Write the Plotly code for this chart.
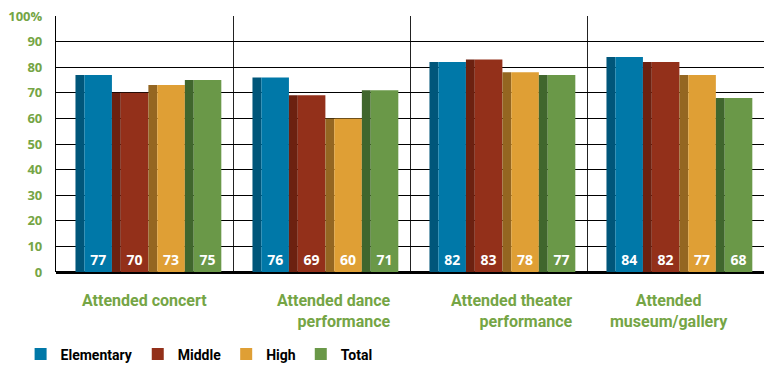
import plotly.graph_objects as go

categories = ["Attended concert", "Attended dance performance",
              "Attended theater performance", "Attended museum/gallery"]
cat_labels = ["Attended concert", "Attended dance<br>performance",
              "Attended theater<br>performance", "Attended<br>museum/gallery"]
series = ["Elementary", "Middle", "High", "Total"]
elementary = [77, 76, 82, 84]
middle = [70, 69, 83, 82]
high = [73, 60, 78, 77]
total = [75, 71, 77, 68]
values = [elementary, middle, high, total]
y_tickvals = [0, 10, 20, 30, 40, 50, 60, 70, 80, 90, 100]
y_ticktext = ["0", "10", "20", "30", "40", "50", "60", "70", "80", "90", "100%"]

front_colors = ["#0078a8", "#93301a", "#df9f35", "#6a9848"]
side_colors = ["#00567a", "#6c2110", "#946621", "#40662d"]

GREEN = "#75a545"
start0, step, side_w, front_w = -0.39, 0.206, 0.05, 0.156

fig = go.Figure()
for i, (name, vals) in enumerate(zip(series, values)):
    off = start0 + i * step
    fig.add_trace(go.Bar(
        x=categories, y=vals, offset=off, width=side_w,
        marker=dict(color=side_colors[i], line=dict(width=0)),
        showlegend=False, hoverinfo="skip"))
    fig.add_trace(go.Bar(
        x=categories, y=vals, offset=off + side_w, width=front_w, name=name,
        marker=dict(color=front_colors[i], line=dict(width=0)),
        text=[str(v) for v in vals], textposition="inside",
        insidetextanchor="start", textangle=0,
        textfont=dict(family="Open Sans", size=14, color="white", weight="bold")))

xshifts = [0, 71, 76, -7]
anchors = ["center", "right", "right", "center"]
aligns = ["center", "right", "right", "center"]
for c, lab, xs, an, al in zip(categories, cat_labels, xshifts, anchors, aligns):
    fig.add_annotation(x=c, xref="x", y=-0.065, yref="paper", text=lab,
                       showarrow=False, xanchor=an, yanchor="top", align=al,
                       xshift=xs,
                       font=dict(family="Roboto", size=16,
                                 color=GREEN, weight="bold"))

fig.update_layout(
    width=764, height=366,
    margin=dict(l=56, r=0, t=16, b=94, autoexpand=False),
    paper_bgcolor="white", plot_bgcolor="white",
    barmode="overlay",
    showlegend=True,
    legend=dict(orientation="h", x=-0.05, xanchor="left", y=-0.322,
                yanchor="middle", traceorder="normal",
                font=dict(family="Roboto", size=14,
                          color="black", weight="bold"),
                itemwidth=30, bgcolor="rgba(0,0,0,0)"),
    xaxis=dict(showticklabels=False, tickson="boundaries", showgrid=True,
               gridcolor="#222222", gridwidth=1, ticks="",
               range=[-0.5, 3.5], showline=False, zeroline=False),
    yaxis=dict(range=[0, 100], tickvals=y_tickvals, ticktext=y_ticktext,
               showgrid=True, gridcolor="black", gridwidth=1.3,
               showline=True, linecolor="black", linewidth=1.3,
               zeroline=True, zerolinecolor="black", zerolinewidth=2.5,
               ticks="", ticklabelstandoff=10,
               tickfont=dict(family="Open Sans", size=13, color=GREEN,
                             weight="bold")),
)

fig.write_html("out.html")
